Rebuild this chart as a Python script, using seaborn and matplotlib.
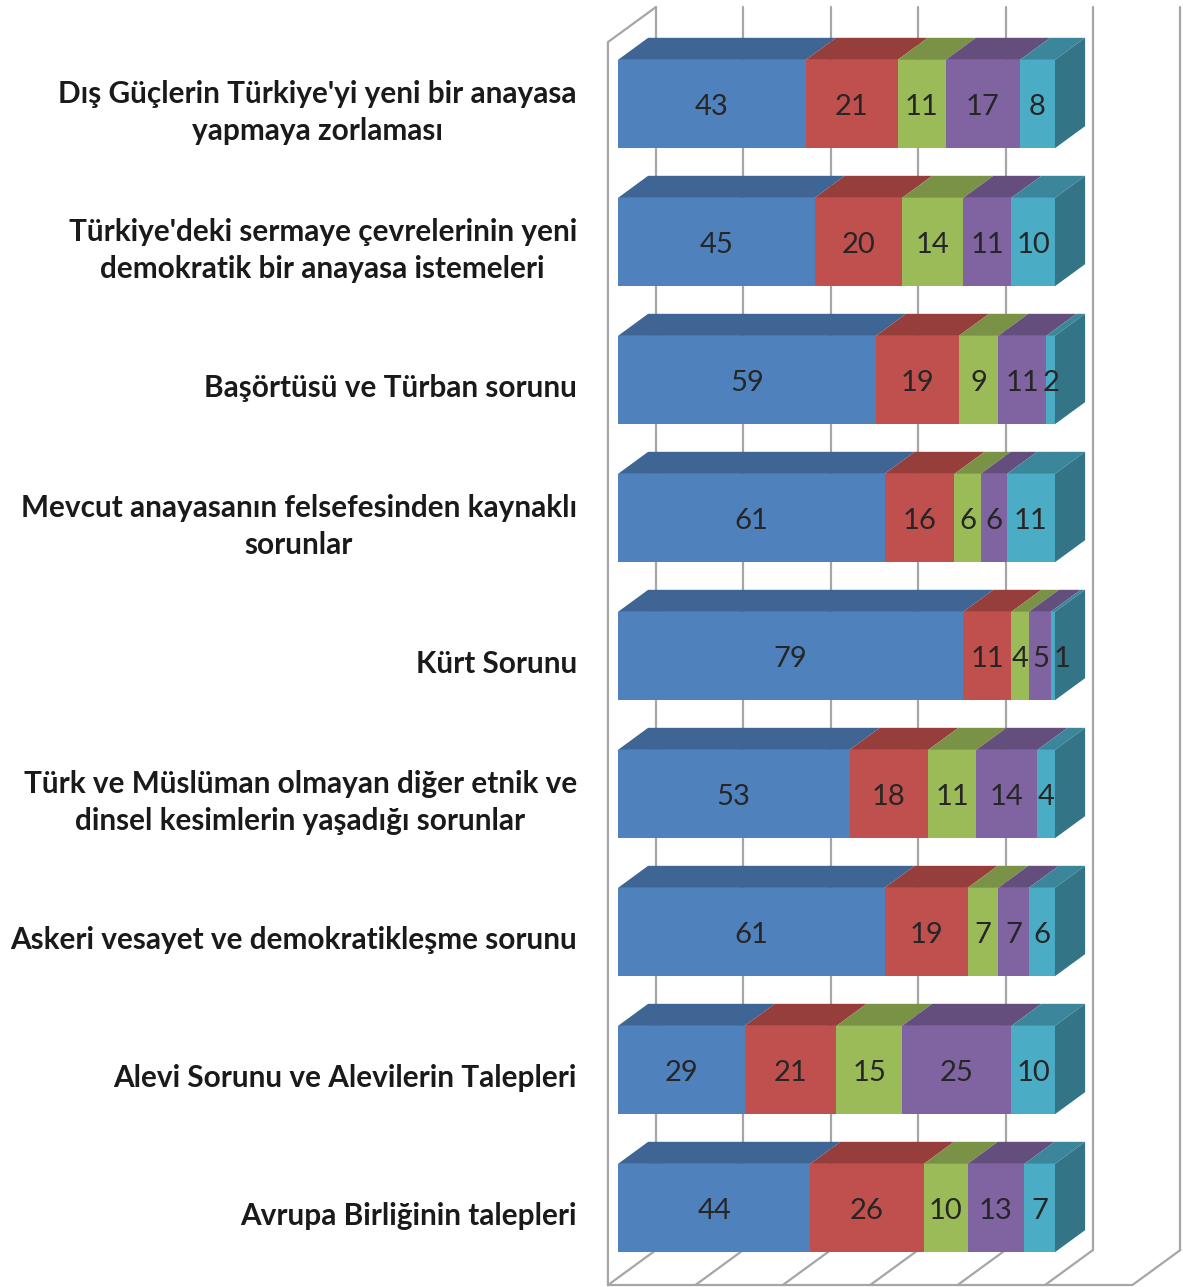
import numpy as np
import matplotlib
matplotlib.use("Agg")
import matplotlib.pyplot as plt
from matplotlib.patches import Polygon
import seaborn as sns

# Veriler (yüzde, her satır toplamı 100)
categories = [
    "Dış Güçlerin Türkiye'yi yeni bir anayasa\nyapmaya zorlaması",
    "Türkiye'deki sermaye çevrelerinin yeni\ndemokratik bir anayasa istemeleri",
    "Başörtüsü ve Türban sorunu",
    "Mevcut anayasanın felsefesinden kaynaklı\nsorunlar",
    "Kürt Sorunu",
    "Türk ve Müslüman olmayan diğer etnik ve\ndinsel kesimlerin yaşadığı sorunlar",
    "Askeri vesayet ve demokratikleşme sorunu",
    "Alevi Sorunu ve Alevilerin Talepleri",
    "Avrupa Birliğinin talepleri",
]
s1 = [43, 45, 59, 61, 79, 53, 61, 29, 44]
s2 = [21, 20, 19, 16, 11, 18, 19, 21, 26]
s3 = [11, 14, 9, 6, 4, 11, 7, 15, 10]
s4 = [17, 11, 11, 6, 5, 14, 7, 25, 13]
s5 = [8, 10, 2, 11, 1, 4, 6, 10, 7]
grid_values = [0, 20, 40, 60, 80, 100, 120]

colors = ["#4F81BD", "#C0504D", "#9BBB59", "#8064A2", "#4BACC6"]

# 3B görünüm ayarları
BAR_H = 0.64
DX, DY = 6.9, -0.16           # çubuk derinliği
X_BACK, X_FRONT = 8.7, -2.29  # duvar düzlemleri
Y_TOP_BACK, Y_TOP_FRONT = -0.703, -0.449
Y_FLOOR_BACK, Y_FLOOR_FRONT = 8.304, 8.558
GRID_C = "#A6A6A6"
DIGIT_W = 2.8   # bir rakamın yaklaşık genişliği (veri birimi)
LABEL_PAD = 2.0


def shade(c, f):
    r, g, b = matplotlib.colors.to_rgb(c)
    return (r * f, g * f, b * f)


sns.set_style("white")
plt.rcParams["font.family"] = ["Lato", "DejaVu Sans"]

fig = plt.figure(figsize=(11.83, 12.87), dpi=100)
ax = fig.add_axes([0, 0, 1, 1])

series = np.array([s1, s2, s3, s4, s5])
cum = np.cumsum(series, axis=0)

# Izgara: arka duvar ve zemin
for v in grid_values:
    ax.plot([v + X_BACK, v + X_BACK], [Y_FLOOR_BACK, Y_TOP_BACK], color=GRID_C, lw=1.6, zorder=1)
    ax.plot([v + X_FRONT, v + X_BACK], [Y_FLOOR_FRONT, Y_FLOOR_BACK], color=GRID_C, lw=1.6, zorder=1)
ax.plot([X_FRONT, grid_values[-1] + X_FRONT], [Y_FLOOR_FRONT, Y_FLOOR_FRONT], color=GRID_C, lw=1.6, zorder=1)
# sol duvar
ax.plot([X_FRONT, X_FRONT, X_BACK], [Y_FLOOR_FRONT, Y_TOP_FRONT, Y_TOP_BACK], color=GRID_C, lw=1.6, zorder=1)

# Ön yüzler (birikimli çubuklar, uzundan kısaya)
for k in reversed(range(5)):
    sns.barplot(x=cum[k], y=categories, orient="h", color=colors[k], saturation=1,
                width=BAR_H, errorbar=None, ax=ax, zorder=3, linewidth=0, edgecolor="none")

# Üst ve yan yüzler
for i in range(len(categories)):
    yt = i - BAR_H / 2
    for k in range(5):
        left = cum[k][i] - series[k][i]
        right = cum[k][i]
        if series[k][i] == 0:
            continue
        ax.add_patch(Polygon([(left, yt), (right, yt), (right + DX, yt + DY), (left + DX, yt + DY)],
                             closed=True, facecolor=shade(colors[k], 0.78), edgecolor="none", zorder=3))
    total = cum[-1][i]
    ax.add_patch(Polygon([(total, yt), (total + DX, yt + DY), (total + DX, yt + BAR_H + DY), (total, yt + BAR_H)],
                         closed=True, facecolor=shade(colors[4], 0.68), edgecolor="none", zorder=3))

    # değer etiketleri (çakışanları sağa it)
    prev_x, prev_w = None, 0
    for k in range(5):
        left = cum[k][i] - series[k][i]
        txt = str(series[k][i])
        w = DIGIT_W * len(txt)
        xc = (left + cum[k][i]) / 2
        if prev_x is not None:
            xc = max(xc, prev_x + (prev_w + w) / 2 + LABEL_PAD)
        ax.text(xc, i + 0.02, txt, ha="center", va="center",
                fontsize=21, color="#262626", zorder=5)
        prev_x, prev_w = xc, w

    # kategori etiketleri
    ax.text(-9.4, i + 0.06, categories[i], ha="right", va="center", multialignment="center",
            fontsize=21.4, fontweight="bold", color="#1a1a1a", linespacing=1.37, zorder=5)

ax.set_xlim(-141.4, 129.3)
ax.set_ylim(8.572, -0.754)
ax.set_axis_off()

fig.savefig("out.png", dpi=100)
